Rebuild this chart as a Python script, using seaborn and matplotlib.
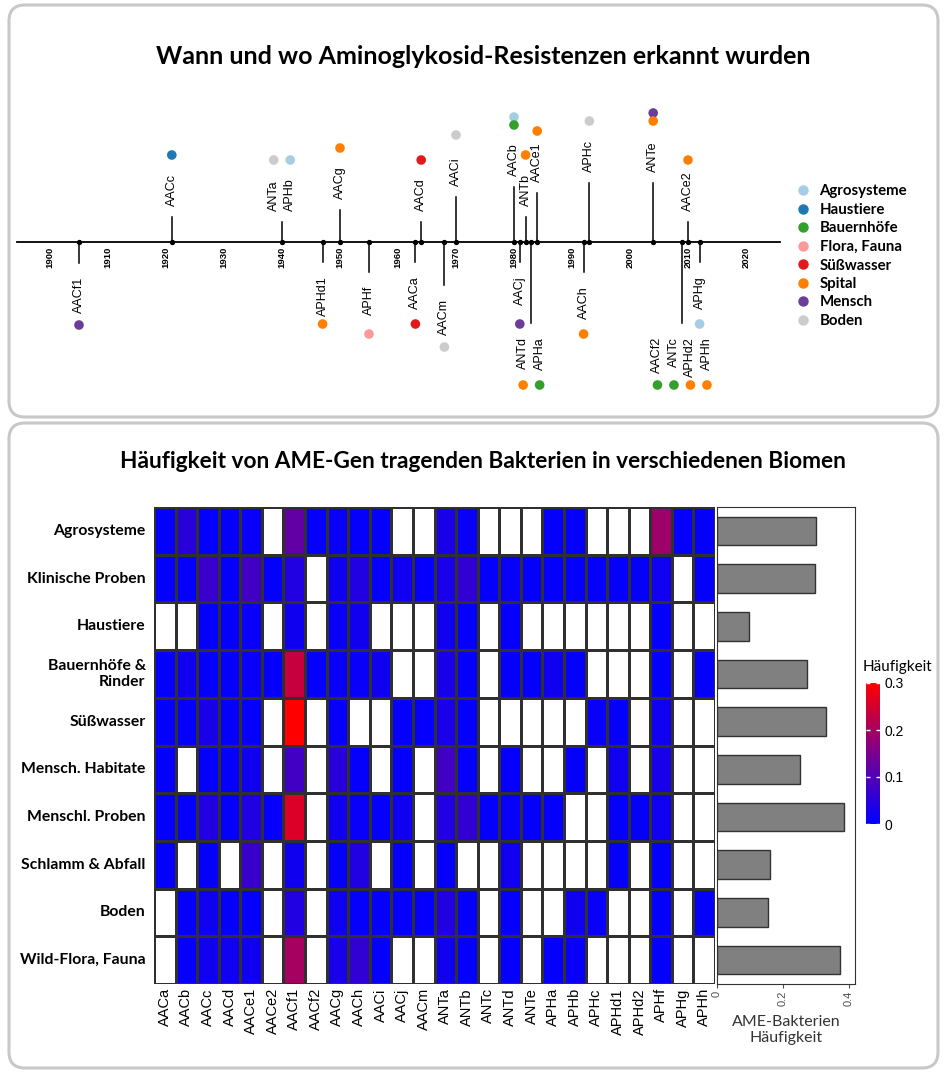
import numpy as np
import pandas as pd
import matplotlib
matplotlib.use('Agg')
import matplotlib.pyplot as plt
import seaborn as sns
from matplotlib.colors import LinearSegmentedColormap, ListedColormap
from matplotlib.patches import FancyBboxPatch
from matplotlib.lines import Line2D

nan = np.nan

# --- Zeitachse: Gene, Jahr der Erkennung, Biome ---
biome_names = ['Agrosysteme', 'Haustiere', 'Bauernhöfe', 'Flora, Fauna',
               'Süßwasser', 'Spital', 'Mensch', 'Boden']
biome_colors = ['#A6CEE3', '#1F78B4', '#33A02C', '#FB9A99',
                '#E31A1C', '#FF7F00', '#6A3D9A', '#CCCCCC']

genes = ['AACf1', 'AACc', 'ANTa', 'APHb', 'APHd1', 'AACg', 'APHf', 'AACa', 'AACd',
         'AACm', 'AACi', 'AACb', 'AACj', 'ANTb', 'ANTd', 'APHa', 'AACe1', 'AACh',
         'APHc', 'ANTe', 'AACf2', 'ANTc', 'APHd2', 'APHh', 'AACe2', 'APHg']
gene_years = [1905, 1921, 1940, 1940, 1947, 1950, 1955, 1963, 1964,
              1968, 1970, 1980, 1981, 1982, 1983, 1983, 1984, 1992,
              1993, 2004, 2009, 2009, 2009, 2009, 2010, 2012]
gene_biomes = [['Mensch'], ['Haustiere'], ['Boden'], ['Agrosysteme'], ['Spital'],
               ['Spital'], ['Flora, Fauna'], ['Süßwasser'], ['Süßwasser'], ['Boden'],
               ['Boden'], ['Bauernhöfe', 'Agrosysteme'], ['Mensch'], ['Spital'],
               ['Spital'], ['Bauernhöfe'], ['Spital'], ['Spital'], ['Boden'],
               ['Spital', 'Mensch'], ['Bauernhöfe'], ['Bauernhöfe'], ['Spital'],
               ['Spital'], ['Spital'], ['Agrosysteme']]
decades = [1900, 1910, 1920, 1930, 1940, 1950, 1960, 1970, 1980, 1990, 2000, 2010, 2020]

# Stiellänge je Jahr in px (positiv = oben, negativ = unten) -- nur Layout
stem_px = [-21, 25, 20, -20, 32, -30, -20, 20, -43, 45, 55, -20, 25, -81, 49,
           -30, 59, 59, -81, 20, -20]

# --- Heatmap: Häufigkeit je Biom und Gen ---
hm_genes = ['AACa', 'AACb', 'AACc', 'AACd', 'AACe1', 'AACe2', 'AACf1', 'AACf2', 'AACg',
            'AACh', 'AACi', 'AACj', 'AACm', 'ANTa', 'ANTb', 'ANTc', 'ANTd', 'ANTe',
            'APHa', 'APHb', 'APHc', 'APHd1', 'APHd2', 'APHf', 'APHg', 'APHh']
hm_biomes = ['Agrosysteme', 'Klinische Proben', 'Haustiere', 'Bauernhöfe &\nRinder',
             'Süßwasser', 'Mensch. Habitate', 'Menschl. Proben', 'Schlamm & Abfall',
             'Boden', 'Wild-Flora, Fauna']

agro = [0.005, 0.05, 0.005, 0.005, 0.01, nan, 0.12, 0.005, 0.01, 0.005, 0.005, nan, nan,
        0.03, 0.01, nan, nan, nan, 0.005, 0.005, nan, nan, nan, 0.19, 0.005, 0.005]
klin = [0.005, 0.005, 0.07, 0.005, 0.08, 0.005, 0.04, nan, 0.02, 0.04, 0.005, 0.02, 0.005,
        0.03, 0.06, 0.005, 0.01, 0.005, 0.005, 0.005, 0.005, 0.005, 0.005, 0.02, nan, 0.005]
haus = [nan, nan, 0.005, 0.005, 0.01, nan, 0.02, nan, 0.01, 0.02, nan, nan, nan,
        0.02, 0.005, nan, 0.005, nan, nan, nan, nan, nan, nan, 0.005, nan, nan]
bauer = [0.005, 0.02, 0.005, 0.005, 0.01, 0.005, 0.235, 0.005, 0.01, 0.01, 0.02, nan, nan,
         0.03, 0.005, nan, 0.005, 0.005, 0.02, 0.005, nan, nan, nan, 0.005, nan, 0.005]
suess = [0.005, 0.005, 0.03, 0.005, 0.005, nan, 0.3, nan, 0.005, nan, nan, 0.005, 0.005,
         0.03, 0.005, nan, nan, nan, nan, nan, 0.01, 0.005, nan, 0.02, nan, nan]
habit = [0.005, nan, 0.005, 0.005, 0.02, nan, 0.08, nan, 0.05, 0.005, nan, 0.005, nan,
         0.08, 0.005, nan, 0.005, nan, nan, 0.005, nan, 0.02, nan, 0.03, nan, nan]
mproben = [0.005, 0.005, 0.04, 0.005, 0.04, 0.005, 0.26, nan, 0.02, 0.01, 0.005, 0.02, nan,
           0.04, 0.06, 0.005, 0.01, 0.005, 0.005, nan, nan, 0.005, 0.005, 0.02, nan, nan]
schlamm = [0.005, nan, 0.005, nan, 0.07, nan, 0.02, nan, 0.005, 0.04, nan, 0.005, nan,
           0.005, nan, nan, 0.02, nan, nan, nan, nan, 0.005, nan, 0.005, nan, nan]
boden = [nan, 0.005, 0.02, 0.005, 0.005, nan, 0.04, nan, 0.02, 0.005, 0.005, 0.005, 0.005,
         0.04, 0.005, nan, 0.005, nan, nan, 0.02, 0.01, nan, nan, 0.005, nan, 0.005]
wild = [nan, 0.005, 0.02, 0.02, 0.02, nan, 0.2, nan, 0.03, 0.06, 0.005, nan, nan,
        0.02, 0.005, nan, 0.005, nan, 0.005, 0.01, nan, nan, nan, 0.005, nan, nan]

ame_freq = [0.300, 0.297, 0.096, 0.273, 0.331, 0.252, 0.386, 0.161, 0.154, 0.373]

# ---------------------------------------------------------------
W, H = 947, 1076
fig = plt.figure(figsize=(W / 100, H / 100), dpi=100)

def fpos(x0, y0, x1, y1):
    # Pixelbox (oben links / unten rechts) -> Figurenkoordinaten
    return [x0 / W, 1 - y1 / H, (x1 - x0) / W, (y1 - y0) / H]

calibri = ['Lato', 'DejaVu Sans']
arial = ['Liberation Sans', 'DejaVu Sans']

# Hintergrund mit den zwei abgerundeten Kästen
bg = fig.add_axes([0, 0, 1, 1], zorder=-5)
bg.set_xlim(0, W)
bg.set_ylim(H, 0)
bg.axis('off')
for (x0, y0, x1, y1) in [(9, 5, 938, 417), (9, 423, 938, 1068)]:
    bg.add_patch(FancyBboxPatch((x0 + 16, y0 + 16), x1 - x0 - 32, y1 - y0 - 32,
                                boxstyle='round,pad=16', fc='white', ec='#C8C8C8', lw=2.2))

# --- oberer Teil: Zeitachse ---
PX = 5.8          # px pro Jahr
AX_Y = 242
ax = fig.add_axes(fpos(0, 0, W, 420))

ax.text(1900 + 433 / PX, 57, 'Wann und wo Aminoglykosid-Resistenzen erkannt wurden',
        ha='center', va='center', fontsize=18, fontweight='bold', family=calibri)

ax.plot([1900 - 33 / PX, 1900 + 730 / PX], [AX_Y, AX_Y], color='black', lw=1.3)
for d in decades:
    ax.text(d, AX_Y + 15, str(d), rotation=90, ha='center', va='center',
            fontsize=6.8, fontweight='bold', family=arial)

years = sorted(set(gene_years))
rows = []
for i, yr in enumerate(years):
    s = stem_px[i]
    end = AX_Y - s
    ax.plot([yr, yr], [AX_Y, end], color='black', lw=1.1)
    members = [k for k, g in enumerate(gene_years) if g == yr]
    n = len(members)
    for j, k in enumerate(members):
        xo = yr + (j - (n - 1) / 2) * 16.5 / PX
        if s > 0:
            ax.text(xo, end - 11, genes[k], rotation=90, rotation_mode='anchor',
                    ha='left', va='center', fontsize=9, family=arial)
        else:
            ax.text(xo, end + 14, genes[k], rotation=90, rotation_mode='anchor',
                    ha='right', va='center', fontsize=9, family=arial)
        bl = gene_biomes[k]
        for m in range(len(bl) - 1, -1, -1):
            dy = 62 + 8 * m
            rows.append({'x': xo, 'y': end - dy if s > 0 else end + dy, 'biom': bl[m]})
ax.scatter(years, [AX_Y] * len(years), s=8, color='black', zorder=3)

dots = pd.DataFrame(rows)
sns.scatterplot(data=dots, x='x', y='y', hue='biom', palette=dict(zip(biome_names, biome_colors)),
                s=48, edgecolor='none', legend=False, ax=ax, zorder=4)
ax.set_xlim(1900 - 50 / PX, 1900 + (W - 50) / PX)
ax.set_ylim(420, 0)
ax.axis('off')

handles = [Line2D([], [], marker='o', ls='', color=c, markersize=6.5) for c in biome_colors]
ax.legend(handles, biome_names, loc='upper left', bbox_to_anchor=(788 / W, 1 - 177 / 420),
          frameon=False, prop={'family': calibri, 'weight': 'bold', 'size': 10.8},
          handletextpad=0.6, labelspacing=0.3, handlelength=1.0, borderpad=0)

# --- unterer Teil: Heatmap ---
fig.text(483 / W, 1 - 462 / H,
         'Häufigkeit von AME-Gen tragenden Bakterien in verschiedenen Biomen',
         ha='center', va='center', fontsize=16.3, fontweight='bold', family=calibri)

hm = pd.DataFrame([agro, klin, haus, bauer, suess, habit, mproben, schlamm, boden, wild],
                  index=hm_biomes, columns=hm_genes)
cmap = LinearSegmentedColormap.from_list('br', ['#0000FF', '#7A0090', '#FF0000'])

ax_hm = fig.add_axes(fpos(154, 507, 715, 984))
cax = fig.add_axes(fpos(866, 683, 880, 824))
sns.heatmap(np.zeros(hm.shape), cmap=ListedColormap(['white']), cbar=False,
            linewidths=0.85, linecolor='#303030', ax=ax_hm)
sns.heatmap(hm, mask=hm.isna(), cmap=cmap, vmin=0, vmax=0.3, linewidths=0.85,
            linecolor='#303030', ax=ax_hm, cbar_ax=cax,
            cbar_kws={'ticks': [0, 0.1, 0.2, 0.3]})
ax_hm.set_xticks(np.arange(len(hm_genes)) + 0.5)
ax_hm.set_xticklabels(hm_genes, rotation=90, fontsize=10.5, family=arial, va='top')
ax_hm.set_yticks(np.arange(len(hm_biomes)) + 0.5)
ax_hm.set_yticklabels(hm_biomes, rotation=0, fontsize=11.3, fontweight='bold',
                      family=calibri, multialignment='right')
ax_hm.tick_params(length=0, pad=3)
ax_hm.tick_params(axis='y', pad=6)
ax_hm.set_xlabel('')
ax_hm.set_ylabel('')

cax.set_yticklabels(['0', '0.1', '0.2', '0.3'])
cax.tick_params(direction='in', color='white', length=3, width=1, labelsize=10,
                labelcolor='black', pad=3)
for t in cax.get_yticklabels():
    t.set_family(arial)
cax.yaxis.set_ticks_position('both')
cax.tick_params(labelleft=False, labelright=True)
for sp in cax.spines.values():
    sp.set_visible(False)
cax.set_title('Häufigkeit', fontsize=11, family=calibri, loc='left', pad=9, x=-0.25)

# --- Balken rechts ---
ax_bar = fig.add_axes(fpos(717, 507, 855, 984))
bars = pd.DataFrame({'biom': hm_biomes, 'freq': ame_freq})
sns.barplot(data=bars, x='freq', y='biom', orient='h', color='#808080',
            edgecolor='#333333', linewidth=1.0, width=0.6, saturation=1, ax=ax_bar)
ax_bar.set_xlim(0, 0.418)
ax_bar.set_ylim(len(hm_biomes) - 0.5, -0.5)
ax_bar.set_yticks([])
ax_bar.set_ylabel('')
ax_bar.set_xticks([0, 0.2, 0.4])
ax_bar.set_xticklabels(['0', '0.2', '0.4'], rotation=90, fontsize=8, family=arial,
                       color='#4D4D4D')
ax_bar.tick_params(axis='x', length=3, color='#4D4D4D', pad=2)
ax_bar.set_xlabel('AME-Bakterien\nHäufigkeit', fontsize=11.5, family=calibri,
                  color='#333333', labelpad=6)
for sp in ax_bar.spines.values():
    sp.set_visible(True)
    sp.set_color('#333333')
    sp.set_linewidth(0.8)

fig.savefig('out.png', dpi=100)
